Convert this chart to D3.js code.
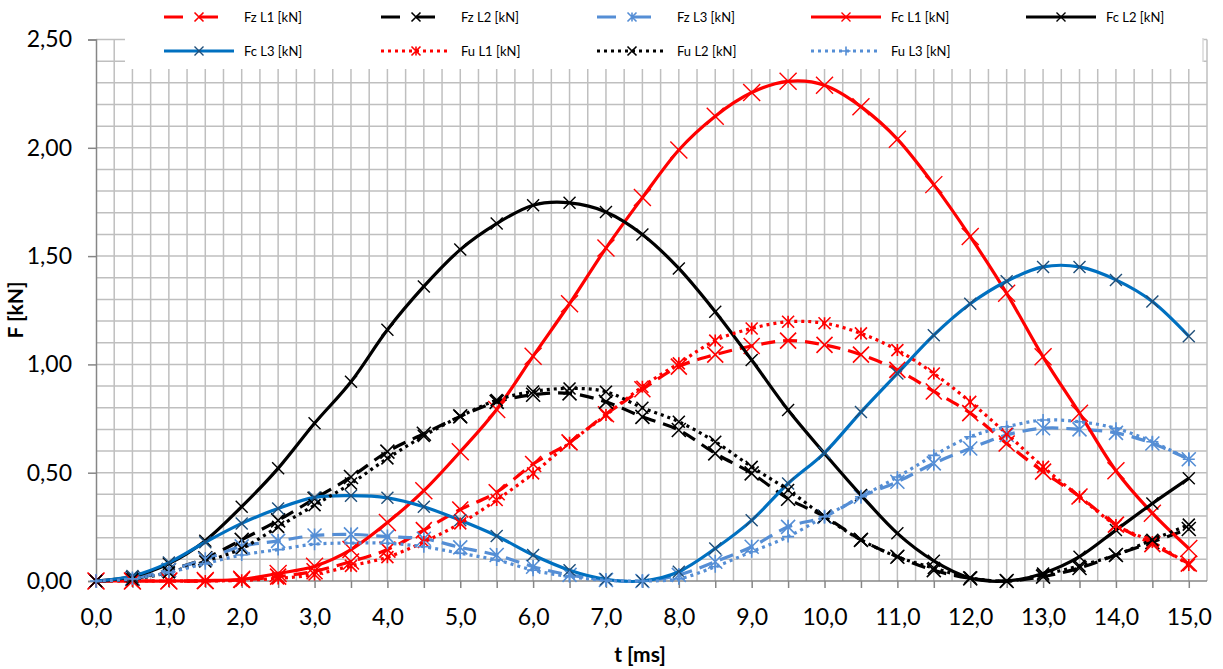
<!DOCTYPE html>
<html><head><meta charset="utf-8">
<script src="https://cdn.jsdelivr.net/npm/d3@7"></script>
<style>
html,body{margin:0;padding:0;background:#fff;}
svg{display:block;font-family:Lato, "Open Sans", sans-serif;}
</style></head>
<body>
<svg id="chart" width="1223" height="669"></svg>
<script>
// ---- data ----
const t = [0,0.5,1,1.5,2,2.5,3,3.5,4,4.5,5,5.5,6,6.5,7,7.5,8,8.5,9,9.5,10,10.5,11,11.5,12,12.5,13,13.5,14,14.5,15];
const fzL1 = [0,0,0,0,0.005,0.02,0.045,0.09,0.145,0.235,0.33,0.41,0.54,0.64,0.77,0.885,0.99,1.045,1.085,1.11,1.09,1.045,0.975,0.875,0.775,0.635,0.505,0.39,0.26,0.17,0.08];
const fzL2 = [0,0.01,0.05,0.105,0.19,0.28,0.38,0.48,0.597,0.68,0.76,0.827,0.86,0.866,0.827,0.758,0.697,0.589,0.497,0.38,0.297,0.19,0.112,0.05,0.012,0,0.02,0.06,0.12,0.18,0.24];
const fzL3 = [0,0.012,0.05,0.1,0.16,0.185,0.21,0.215,0.205,0.195,0.155,0.12,0.066,0.028,0.005,0,0.028,0.089,0.158,0.25,0.297,0.389,0.458,0.543,0.612,0.674,0.705,0.7,0.684,0.635,0.562];
const fcL1 = [0,0,0,0.002,0.008,0.035,0.068,0.145,0.27,0.417,0.597,0.792,1.038,1.28,1.537,1.77,1.99,2.146,2.255,2.307,2.289,2.19,2.04,1.83,1.59,1.328,1.035,0.775,0.509,0.313,0.15];
const fcL2 = [0,0.02,0.08,0.186,0.343,0.52,0.728,0.92,1.16,1.36,1.53,1.65,1.735,1.746,1.704,1.6,1.443,1.243,1.02,0.789,0.589,0.397,0.22,0.093,0.014,0,0.035,0.112,0.235,0.358,0.474];
const fcL3 = [0,0.023,0.085,0.179,0.266,0.335,0.386,0.394,0.384,0.343,0.28,0.208,0.12,0.05,0.008,0,0.043,0.15,0.28,0.45,0.592,0.78,0.958,1.135,1.28,1.384,1.45,1.45,1.39,1.29,1.13];
const fuL1 = [0,0,0,0,0.003,0.012,0.03,0.07,0.11,0.18,0.266,0.374,0.497,0.638,0.766,0.897,1.005,1.11,1.166,1.197,1.19,1.143,1.066,0.958,0.827,0.68,0.527,0.389,0.258,0.18,0.074];
const fuL2 = [0,0.008,0.04,0.09,0.15,0.25,0.35,0.45,0.566,0.67,0.76,0.835,0.875,0.889,0.874,0.8,0.735,0.643,0.527,0.42,0.297,0.19,0.112,0.06,0.015,0,0.03,0.07,0.12,0.19,0.26];
const fuL3 = [0,0.01,0.04,0.08,0.12,0.145,0.17,0.175,0.174,0.158,0.128,0.097,0.05,0.02,0.003,0,0.01,0.066,0.135,0.205,0.297,0.389,0.48,0.58,0.666,0.712,0.743,0.735,0.705,0.643,0.562];

const seriesNames = ["Fz L1 [kN]","Fz L2 [kN]","Fz L3 [kN]","Fc L1 [kN]","Fc L2 [kN]","Fc L3 [kN]","Fu L1 [kN]","Fu L2 [kN]","Fu L3 [kN]"];
const seriesValues = [fzL1,fzL2,fzL3,fcL1,fcL2,fcL3,fuL1,fuL2,fuL3];
const yTicks = [0,0.5,1,1.5,2,2.5];
const xTicks = [0,1,2,3,4,5,6,7,8,9,10,11,12,13,14,15];

// ---- styles ----
const RED="#FF0000", BLK="#000000", BLU="#0070C0", LBL="#558ED5", DBL="#1F4E79";
const styles = [
  {color:RED, dash:"14,8", marker:"x", mcolor:RED, msize:8, mw:1.6},
  {color:BLK, dash:"14,8", marker:"x", mcolor:BLK, msize:7, mw:1.6},
  {color:LBL, dash:"14,8", marker:"ast", mcolor:LBL, msize:7, mw:1.6},
  {color:RED, dash:null, marker:"x", mcolor:RED, msize:8.5, mw:1.4},
  {color:BLK, dash:null, marker:"x", mcolor:BLK, msize:6, mw:1.4},
  {color:BLU, dash:null, marker:"x", mcolor:DBL, msize:6, mw:1.4},
  {color:RED, dash:"3,4", marker:"ast", mcolor:RED, msize:6, mw:1.6},
  {color:BLK, dash:"3,4", marker:"x", mcolor:BLK, msize:6, mw:1.6},
  {color:LBL, dash:"3,4", marker:"plus", mcolor:LBL, msize:6, mw:1.6}
];

const svg = d3.select("#chart");
const x = d3.scaleLinear().domain([0,15.25]).range([96,1207]);
const y = d3.scaleLinear().domain([0,2.5]).range([581,39.5]);

// gridlines
const grid = svg.append("g").attr("stroke","#BFBFBF").attr("stroke-width",1.5);
d3.range(0.25,15.26,0.25).forEach(v=>{
  grid.append("line").attr("x1",x(v)).attr("x2",x(v)).attr("y1",y(0)).attr("y2",y(2.5));
});
d3.range(1,26).forEach(i=>{
  const v=i/10;
  grid.append("line").attr("x1",x(0)).attr("x2",x(15.25)).attr("y1",y(v)).attr("y2",y(v));
});

// axes
const yAxis = d3.axisLeft(y).tickValues(yTicks).tickSize(8).tickFormat(d=>d3.format(".2f")(d).replace(".",","));
const gy = svg.append("g").attr("transform",`translate(${x(0)},0)`).call(yAxis);
gy.select(".domain").attr("stroke","#868686").attr("stroke-width",1.5);
gy.selectAll(".tick line").attr("stroke","#868686").attr("stroke-width",1.5);
gy.selectAll(".tick text").attr("font-size",23).attr("fill","#000").attr("x",-24).attr("font-family","Lato");

const xAxis = d3.axisBottom(x).tickValues(d3.range(0,15.01,0.5)).tickSize(7).tickFormat(d=> Number.isInteger(d)? d3.format(".1f")(d).replace(".",","):"");
const gx = svg.append("g").attr("transform",`translate(0,${y(0)})`).call(xAxis);
gx.select(".domain").attr("stroke","#868686").attr("stroke-width",1.5).attr("d",`M${x(0)},0H${x(15.25)}`);
gx.selectAll(".tick line").attr("stroke","#868686").attr("stroke-width",1.5);
gx.selectAll(".tick text").attr("font-size",23).attr("fill","#000").attr("y",28).attr("font-family","Lato");

// axis titles
svg.append("text").attr("transform","translate(23,310) rotate(-90)").attr("text-anchor","middle")
  .attr("font-size",21).attr("font-weight","bold").text("F [kN]");
svg.append("text").attr("x",640).attr("y",662).attr("text-anchor","middle")
  .attr("font-size",21).attr("font-weight","bold").text("t [ms]");

// marker drawing
function drawMarker(g, cx, cy, st){
  const s = st.msize;
  const p = d3.path();
  if(st.marker==="x"||st.marker==="ast"){
    p.moveTo(cx-s,cy-s); p.lineTo(cx+s,cy+s);
    p.moveTo(cx-s,cy+s); p.lineTo(cx+s,cy-s);
  }
  if(st.marker==="ast"){ p.moveTo(cx,cy-s); p.lineTo(cx,cy+s); }
  if(st.marker==="plus"){
    p.moveTo(cx-s,cy); p.lineTo(cx+s,cy);
    p.moveTo(cx,cy-s); p.lineTo(cx,cy+s);
  }
  g.append("path").attr("d",p.toString()).attr("stroke",st.mcolor).attr("stroke-width",st.mw).attr("fill","none");
}

// series
const line = d3.line().x(d=>x(d[0])).y(d=>y(d[1])).curve(d3.curveCatmullRom.alpha(0));
const plot = svg.append("g");
seriesValues.forEach((vals,i)=>{
  const st = styles[i];
  const data = t.map((tv,k)=>[tv,vals[k]]);
  const g = plot.append("g");
  g.append("path").attr("d",line(data)).attr("fill","none").attr("stroke",st.color)
    .attr("stroke-width",3.2).attr("stroke-dasharray",st.dash).attr("stroke-linejoin","round");
  data.forEach(d=>drawMarker(g, x(d[0]), y(d[1]), st));
});

// legend
const leg = svg.append("g");
leg.append("rect").attr("x",125).attr("y",0).attr("width",1078).attr("height",69).attr("fill","#fff");
leg.append("line").attr("x1",1203).attr("x2",1203).attr("y1",38).attr("y2",62).attr("stroke","#D9D9D9").attr("stroke-width",1.5);
const colX = [164,381,597,811,1026];
seriesNames.forEach((name,i)=>{
  const row = i<5?0:1, col = i<5?i:i-5;
  const sx = colX[col], sy = row===0?17:51;
  const st = styles[i];
  const g = leg.append("g");
  g.append("line").attr("x1",sx).attr("x2",sx+70).attr("y1",sy).attr("y2",sy)
    .attr("stroke",st.color).attr("stroke-width",3).attr("stroke-dasharray",st.dash ? (st.dash==="3,4"?"3,4":"19,16") : null);
  drawMarker(g, sx+35, sy, Object.assign({},st,{msize:4.5}));
  g.append("text").attr("x",sx+80).attr("y",sy).attr("dy","0.35em").attr("font-size",13).attr("fill","#000").text(name);
});
</script>
</body></html>
